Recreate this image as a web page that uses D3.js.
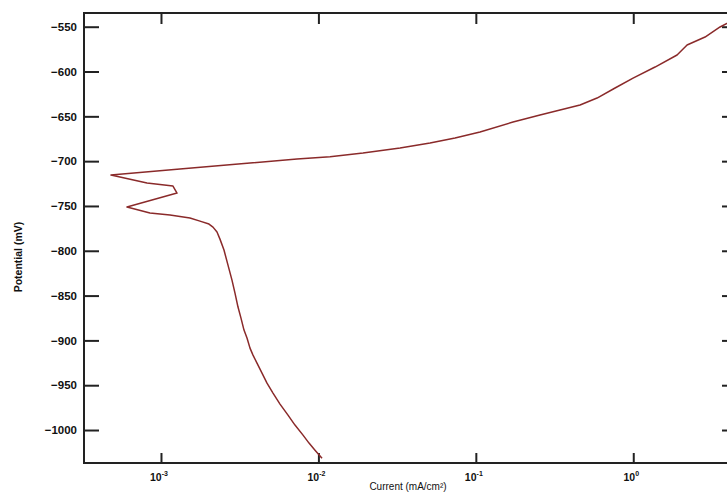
<!DOCTYPE html>
<html>
<head>
<meta charset="utf-8">
<script src="https://cdn.jsdelivr.net/npm/d3@7"></script>
<style>
  html, body { margin: 0; padding: 0; background: #fff; }
  svg { display: block; font-family: "Liberation Sans", Arial, sans-serif; }
</style>
</head>
<body>
<svg id="chart" width="727" height="495"></svg>
<script>
// Polarization curve: current density (mA/cm²) vs potential (mV), cathodic end first
const current = [
  0.010541, 0.009515, 0.008716, 0.007984, 0.007100, 0.006410, 0.005703, 0.005148,
  0.004715, 0.004383, 0.004073, 0.003842, 0.003677, 0.003519, 0.003368, 0.003223,
  0.003085, 0.002952, 0.002825, 0.002665, 0.002513, 0.002370, 0.002269, 0.002140,
  0.002018, 0.001769, 0.001528, 0.001141, 0.000851, 0.000608, 0.001264, 0.001192,
  0.000815, 0.000481, 0.001320, 0.003677, 0.007311, 0.011851, 0.019204, 0.033000,
  0.051173, 0.073779, 0.10634, 0.17230, 0.25574, 0.34269, 0.45930, 0.58886,
  0.76631, 0.99708, 1.3752, 1.8977, 2.1970, 2.8582, 3.5590, 4.5649
];
const potential = [
  -1031.4, -1022.5, -1014.6, -1005.7, -994.5, -983.4, -971.1, -958.8,
  -947.7, -936.5, -925.3, -916.4, -908.6, -897.4, -888.5, -875.1,
  -862.8, -847.2, -832.7, -816.0, -799.2, -787.0, -779.1, -773.6,
  -770.2, -766.9, -763.5, -760.2, -757.9, -751.2, -735.6, -727.8,
  -724.4, -715.5, -708.8, -702.1, -697.7, -695.1, -691.0, -685.4,
  -679.8, -674.2, -667.5, -656.4, -648.6, -643.0, -637.4, -629.6,
  -618.4, -607.3, -595.0, -581.6, -570.4, -561.5, -550.3, -540.3
];
const yTicks = [-550, -600, -650, -700, -750, -800, -850, -900, -950, -1000];
const xTickExponents = [-3, -2, -1, 0];
const xTitle = "Current (mA/cm²)";
const yTitle = "Potential (mV)";

const svg = d3.select("#chart");
const plotL = 84, plotR = 737, plotT = 13, plotB = 463;

const x = d3.scaleLog().domain([Math.pow(10, -3.489), Math.pow(10, 0.659)]).range([plotL, plotR]);
const y = d3.scaleLinear().domain([-1036.8, -534.7]).range([plotB, plotT]);

const axisColor = "#222";

// clip for the curve
svg.append("defs").append("clipPath").attr("id", "plotClip")
  .append("rect").attr("x", plotL).attr("y", plotT).attr("width", plotR - plotL).attr("height", plotB - plotT);

// y axes (ticks pointing inward)
const gLeft = svg.append("g").attr("transform", `translate(${plotL},0)`)
  .call(d3.axisLeft(y).tickValues(yTicks).tickSizeInner(-15).tickSizeOuter(0).tickPadding(7).tickFormat(d3.format("d")));
const gRight = svg.append("g").attr("transform", `translate(${plotR},0)`)
  .call(d3.axisRight(y).tickValues(yTicks).tickSizeInner(-15).tickSizeOuter(0).tickFormat(""));

// x axes
const xTickVals = xTickExponents.map(e => Math.pow(10, e));
const gBottom = svg.append("g").attr("transform", `translate(0,${plotB})`)
  .call(d3.axisBottom(x).tickValues(xTickVals).tickSizeInner(-10).tickSizeOuter(0).tickFormat(""));
const gTop = svg.append("g").attr("transform", `translate(0,${plotT})`)
  .call(d3.axisTop(x).tickValues(xTickVals).tickSizeInner(-11).tickSizeOuter(0).tickFormat(""));

[gLeft, gRight, gBottom, gTop].forEach(g => {
  g.select(".domain").remove();
  g.selectAll(".tick line").attr("stroke", axisColor).attr("stroke-width", 2);
});

gLeft.selectAll(".tick text")
  .attr("fill", "#111").attr("font-size", 11.5).attr("font-weight", "bold");

// x tick labels as 10 with superscript exponent
const xl = svg.append("g");
xTickExponents.forEach(e => {
  const t = xl.append("text")
    .attr("x", x(Math.pow(10, e)) - 2)
    .attr("y", 481)
    .attr("text-anchor", "middle")
    .attr("font-size", 10.5)
    .attr("font-weight", "bold")
    .attr("fill", "#111");
  t.append("tspan").text("10");
  t.append("tspan").attr("dy", -5).attr("font-size", 7).text(e === 0 ? "0" : "-" + Math.abs(e));
});

// frame
svg.append("rect")
  .attr("x", plotL).attr("y", plotT).attr("width", plotR - plotL).attr("height", plotB - plotT)
  .attr("fill", "none").attr("stroke", axisColor).attr("stroke-width", 2);

// curve
const pts = current.map((c, i) => [c, potential[i]]);
svg.append("path")
  .datum(pts)
  .attr("clip-path", "url(#plotClip)")
  .attr("fill", "none")
  .attr("stroke", "#8a2a2a")
  .attr("stroke-width", 1.5)
  .attr("stroke-linejoin", "round")
  .attr("d", d3.line().x(d => x(d[0])).y(d => y(d[1])));

// axis titles
svg.append("text")
  .attr("x", 408).attr("y", 490)
  .attr("text-anchor", "middle")
  .attr("font-size", 10)
  .attr("fill", "#111")
  .text(xTitle);

svg.append("text")
  .attr("transform", "translate(22,257) rotate(-90)")
  .attr("text-anchor", "middle")
  .attr("font-size", 10.5)
  .attr("font-weight", "bold")
  .attr("fill", "#111")
  .text(yTitle);
</script>
</body>
</html>
